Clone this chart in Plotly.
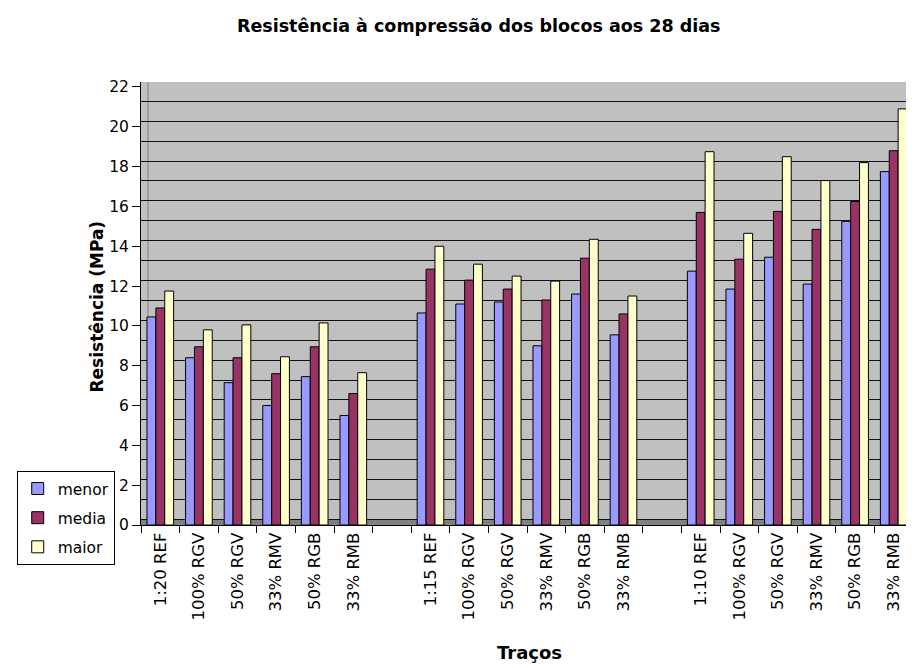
import plotly.graph_objects as go

categories = ["1:20 REF", "100% RGV", "50% RGV", "33% RMV", "50% RGB", "33% RMB", "",
              "1:15 REF", "100% RGV", "50% RGV", "33% RMV", "50% RGB", "33% RMB", "",
              "1:10 REF", "100% RGV", "50% RGV", "33% RMV", "50% RGB", "33% RMB"]

menor = [10.45, 8.4, 7.15, 6.0, 7.45, 5.5, None,
         10.65, 11.1, 11.2, 9.0, 11.6, 9.55, None,
         12.75, 11.85, 13.45, 12.1, 15.25, 17.75]
media = [10.9, 8.95, 8.4, 7.6, 8.95, 6.6, None,
         12.85, 12.3, 11.85, 11.3, 13.4, 10.6, None,
         15.7, 13.35, 15.75, 14.85, 16.25, 18.8]
maior = [11.75, 9.8, 10.05, 8.45, 10.15, 7.65, None,
         14.0, 13.1, 12.5, 12.25, 14.35, 11.5, None,
         18.75, 14.65, 18.5, 17.3, 18.2, 20.9]

series = [("menor", menor, "#9999FF"), ("media", media, "#993366"), ("maior", maior, "#FFFFCC")]

yticks = list(range(0, 23, 2))
xpos = list(range(len(categories)))
FONT = "DejaVu Sans"

fig = go.Figure()
# invisible trace anchoring the back-wall grid axis
fig.add_trace(go.Scatter(x=[None], y=[None], yaxis="y", showlegend=False, hoverinfo="skip"))
for name, vals, col in series:
    fig.add_trace(go.Bar(x=xpos, y=vals, name=name, yaxis="y2", legendgroup=name,
                         marker=dict(color=col, line=dict(color="black", width=1))))

fig.update_layout(
    width=914, height=668,
    margin=dict(l=125, r=9, t=74, b=151),
    paper_bgcolor="white", plot_bgcolor="#C0C0C0",
    barmode="group", bargap=0.31, bargroupgap=0,
    font=dict(family=FONT, size=16, color="black"),
    title=dict(text="<b>Resistência à compressão dos blocos aos 28 dias</b>",
               x=0.515, xanchor="center", y=0.9725, yanchor="middle", font=dict(size=17.5)),
    legend=dict(x=-0.161, xanchor="left", y=0.122, yanchor="top",
                bordercolor="black", borderwidth=1, bgcolor="white",
                font=dict(size=15.5), traceorder="grouped", tracegroupgap=6, itemwidth=30),
    showlegend=True,
    xaxis=dict(
        range=[-0.5, 19.5], tickmode="array", tickvals=xpos, ticktext=categories,
        tickangle=-90, ticks="", showgrid=False, showline=True, linecolor="black", linewidth=1,
        minor=dict(tick0=-0.5, dtick=1, ticks="outside", ticklen=7, tickcolor="black", showgrid=False),
        tickfont=dict(size=16.5), zeroline=False,
    ),
    # back-wall grid (offset for the 3D depth)
    yaxis=dict(
        range=[-0.28, 21.97], tickmode="array", tickvals=list(range(0, 23)),
        showticklabels=False, ticks="", showline=False, zeroline=False,
        showgrid=True, gridcolor="#111111", gridwidth=1,
    ),
    yaxis2=dict(
        overlaying="y", side="left", range=[0, 22.25], tickmode="array", tickvals=yticks,
        ticks="outside", ticklen=8, tickcolor="black", showline=True, linecolor="black", linewidth=1,
        showgrid=False, zeroline=False, tickfont=dict(size=15.5),
    ),
)

# floor of the 3D wall and the back-wall edge
fig.add_shape(type="rect", xref="paper", yref="y2", x0=0, x1=1, y0=0, y1=0.28,
              fillcolor="#808080", line=dict(width=0), layer="below")
fig.add_shape(type="line", xref="paper", yref="paper", x0=0.009, x1=0.009, y0=0.012, y1=1,
              line=dict(color="#808080", width=1), layer="below")

fig.add_annotation(text="<b>Resistência (MPa)</b>", xref="paper", yref="paper",
                   x=-0.0565, y=0.494, textangle=-90, showarrow=False,
                   xanchor="center", yanchor="middle", font=dict(size=17))
fig.add_annotation(text="<b>Traços</b>", xref="paper", yref="paper",
                   x=0.5026, y=-0.2867, showarrow=False,
                   xanchor="center", yanchor="middle", font=dict(size=18))

fig.write_html("out.html")
